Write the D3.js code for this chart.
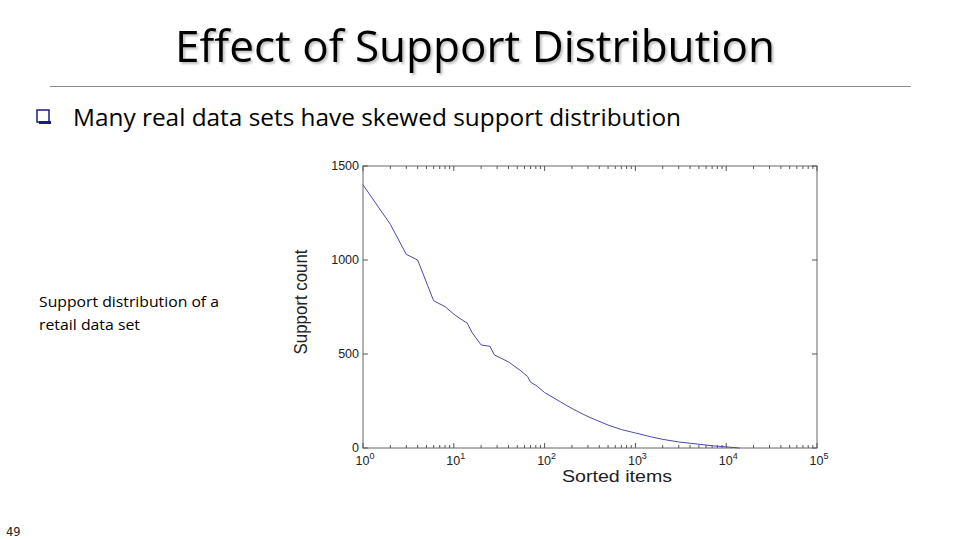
<!DOCTYPE html>
<html lang="en">
<head>
<meta charset="UTF-8">
<title>Effect of Support Distribution</title>
<script src="https://d3js.org/d3.v7.min.js"></script>
<style>
    body { margin: 0; background: #fff; }
    svg { display: block; }
    .slide { font-family: "Open Sans", "Noto Sans", sans-serif; fill: #000; }
    .plot text { font-family: "Liberation Sans", Arial, sans-serif; fill: #222; }
</style>
</head>
<body>
<svg width="960" height="540"></svg>
<script>
// sorted item rank (log scale) and its support count
const ranks = [1, 2, 3, 4, 6, 8, 10, 12, 14, 16, 20, 25, 28, 40, 55, 65, 70, 80, 100, 150, 200, 300, 500, 700, 1000, 1500, 2000, 3000, 5000, 7000, 10000, 14000];
const supports = [1400, 1190, 1030, 1000, 783, 752, 712, 685, 665, 612, 548, 541, 495, 458, 410, 380, 350, 334, 295, 245, 210, 167, 122, 98, 80, 59, 46, 32, 20, 12, 6, 0];
const xTicks = [0, 1, 2, 3, 4, 5];          // powers of ten
const yTicks = [0, 500, 1000, 1500];

const svg = d3.select("svg");

// slide title with soft shadow
const defs = svg.append("defs");
const f = defs.append("filter").attr("id", "shadow").attr("x", "-5%").attr("y", "-20%").attr("width", "110%").attr("height", "140%");
f.append("feDropShadow").attr("dx", 2).attr("dy", 2).attr("stdDeviation", 1.2).attr("flood-color", "#000").attr("flood-opacity", 0.25);

svg.append("text").attr("class", "slide")
    .attr("x", 475).attr("y", 62).attr("text-anchor", "middle")
    .attr("font-size", 43).attr("textLength", 600).attr("lengthAdjust", "spacingAndGlyphs")
    .attr("filter", "url(#shadow)")
    .text("Effect of Support Distribution");

svg.append("line").attr("x1", 50).attr("x2", 911).attr("y1", 86.5).attr("y2", 86.5)
    .attr("stroke", "#8c8c8c").attr("stroke-width", 1);

// bullet
svg.append("rect").attr("x", 37).attr("y", 110).attr("width", 12).attr("height", 12)
    .attr("fill", "#fff").attr("stroke", "#1a1a8c").attr("stroke-width", 1.5);
svg.append("rect").attr("x", 39).attr("y", 121).attr("width", 12).attr("height", 3).attr("fill", "#1a1a8c");
svg.append("text").attr("class", "slide")
    .attr("x", 73).attr("y", 126).attr("font-size", 24)
    .attr("textLength", 608).attr("lengthAdjust", "spacingAndGlyphs")
    .text("Many real data sets have skewed support distribution");

svg.append("text").attr("class", "slide").attr("x", 39).attr("y", 307).attr("font-size", 15)
    .attr("textLength", 180).attr("lengthAdjust", "spacingAndGlyphs")
    .text("Support distribution of a");
svg.append("text").attr("class", "slide").attr("x", 39).attr("y", 330).attr("font-size", 15)
    .attr("textLength", 101).attr("lengthAdjust", "spacingAndGlyphs")
    .text("retail data set");
svg.append("text").attr("font-family", "DejaVu Sans Mono, monospace").attr("x", 6).attr("y", 536)
    .attr("font-size", 12).attr("fill", "#222").text("49");

// plot
const margin = { left: 363, right: 817, top: 166, bottom: 448 };
const x = d3.scaleLog().domain([1, 1e5]).range([margin.left, margin.right]);
const y = d3.scaleLinear().domain([0, 1500]).range([margin.bottom, margin.top]);
const g = svg.append("g").attr("class", "plot");

g.append("rect").attr("x", margin.left).attr("y", margin.top)
    .attr("width", margin.right - margin.left).attr("height", margin.bottom - margin.top)
    .attr("fill", "none").attr("stroke", "#666").attr("stroke-width", 1);

// inward ticks on all sides, MATLAB style
const minor = [];
for (let p = 0; p < 5; p++) for (let k = 2; k <= 9; k++) minor.push(k * Math.pow(10, p));
const major = xTicks.map(p => Math.pow(10, p));

const tg = g.append("g").attr("stroke", "#555").attr("stroke-width", 1);
[[margin.bottom, -1], [margin.top, 1]].forEach(([yy, dir]) => {
    tg.selectAll(null).data(minor).enter().append("line")
        .attr("x1", d => x(d)).attr("x2", d => x(d))
        .attr("y1", yy).attr("y2", yy + dir * 3);
    tg.selectAll(null).data(major).enter().append("line")
        .attr("x1", d => x(d)).attr("x2", d => x(d))
        .attr("y1", yy).attr("y2", yy + dir * 5);
});
[[margin.left, 1], [margin.right, -1]].forEach(([xx, dir]) => {
    tg.selectAll(null).data(yTicks).enter().append("line")
        .attr("x1", xx).attr("x2", xx + dir * 5)
        .attr("y1", d => y(d)).attr("y2", d => y(d));
});

// x tick labels with superscript exponent
const xl = g.selectAll(null).data(xTicks).enter().append("text")
    .attr("x", d => x(Math.pow(10, d)) + 2).attr("y", 465)
    .attr("text-anchor", "middle").attr("font-size", 12.5);
xl.append("tspan").text("10");
xl.append("tspan").attr("dy", -6).attr("font-size", 9).text(d => d);

g.selectAll(null).data(yTicks).enter().append("text")
    .attr("x", margin.left - 4).attr("y", d => y(d) + 4)
    .attr("text-anchor", "end").attr("font-size", 12.5)
    .text(d => d);

g.append("text").attr("x", 617).attr("y", 482).attr("text-anchor", "middle")
    .attr("font-size", 16).attr("textLength", 110).attr("lengthAdjust", "spacingAndGlyphs")
    .attr("fill", "#111").text("Sorted items");
g.append("text").attr("transform", "translate(307,302) rotate(-90)").attr("text-anchor", "middle")
    .attr("font-size", 18).attr("textLength", 105).attr("lengthAdjust", "spacingAndGlyphs")
    .attr("fill", "#111").text("Support count");

const line = d3.line().x((d, i) => x(ranks[i])).y(d => y(d));
g.append("path").datum(supports).attr("d", line)
    .attr("fill", "none").attr("stroke", "#4a4ab0").attr("stroke-width", 1);
</script>
</body>
</html>
